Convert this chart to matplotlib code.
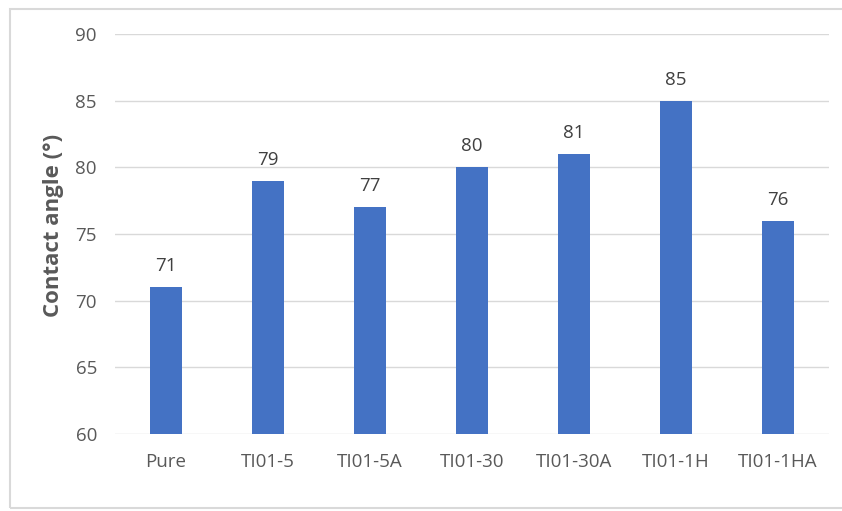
import matplotlib.pyplot as plt
from matplotlib.patches import Rectangle

samples = ["Pure", "TI01-5", "TI01-5A", "TI01-30", "TI01-30A", "TI01-1H", "TI01-1HA"]
angles = [71, 79, 77, 80, 81, 85, 76]
yticks = [60, 65, 70, 75, 80, 85, 90]

plt.rcParams['font.family'] = ['Open Sans', 'DejaVu Sans']

fig = plt.figure(figsize=(8.42, 5.11), dpi=100)
ax = fig.add_axes([0.1366, 0.1507, 0.8479, 0.7828])

# light frame round the chart (right edge runs off the picture)
fig.patches.append(Rectangle((10/842, 3/511), 840/842, 499/511, transform=fig.transFigure,
                             fill=False, edgecolor="#d9d9d9", linewidth=1.5))

x = range(len(samples))
ax.bar(x, angles, width=0.305, color="#4472C4", zorder=3)
for xi, v in zip(x, angles):
    ax.text(xi, v + 0.9, str(v), ha="center", va="bottom", fontsize=13.5, color="#404040")

ax.set_ylim(60, 90)
ax.set_xlim(-0.5, len(samples) - 0.5)
ax.set_yticks(yticks)
ax.set_xticks(list(x))
ax.set_xticklabels(samples)
ax.yaxis.grid(True, color="#d9d9d9", linewidth=1, zorder=0)
ax.tick_params(length=0, labelsize=13.5, colors="#595959")
ax.tick_params(axis="y", pad=13)
ax.tick_params(axis="x", pad=14)
for s in ax.spines.values():
    s.set_visible(False)
ax.set_ylabel("Contact angle (°)", fontsize=16, fontweight="bold", color="#595959")
ax.yaxis.set_label_coords(-0.072, 0.522)

plt.savefig("out.png", dpi=100)
